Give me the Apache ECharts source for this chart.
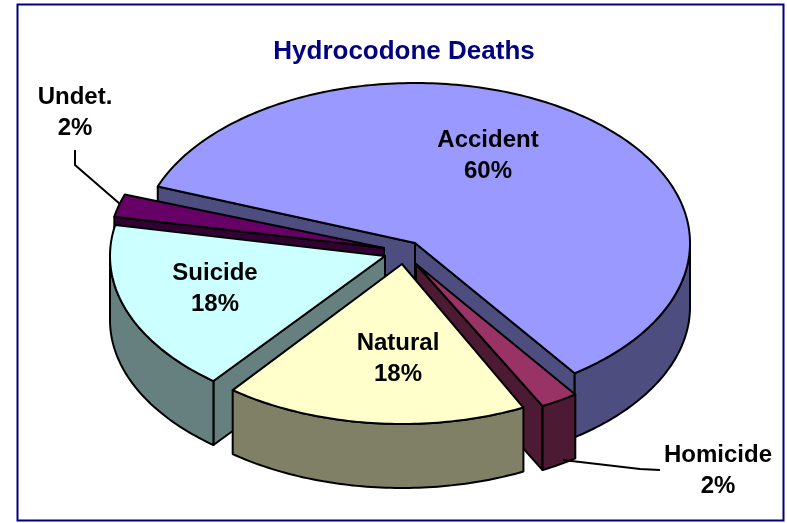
<!DOCTYPE html>
<html><head><meta charset="utf-8">
<style>html,body{margin:0;padding:0;background:#fff}#c{width:787px;height:523px}</style>
<script src="https://cdn.jsdelivr.net/npm/echarts@6/dist/echarts.min.js"></script>
</head><body><div id="c"></div>
<script>
const categories = ["Accident", "Homicide", "Natural", "Suicide", "Undet."];
const shares = [60, 2, 18, 18, 2];
const titleText = "Hydrocodone Deaths";

// styling and layout, not data
const topColors = ["#9999FF", "#993366", "#FFFFCC", "#CCFFFF", "#660066"];
const wallColors = ["#4D4D80", "#4D1A33", "#808066", "#668080", "#330033"];
const centre = [415, 243], rx = 275, ry = 160, depth = 64, startAngle = 289.5;
const explode = [[0, 0], [1, 21], [-13, 21], [-30, 13], [-31, 5]];
// small perspective correction of each slice's rim angles, in degrees
const perspective = [[1.2, -1], [-0.9, -0.1], [1.1, 0.5], [1.1, -1.1], [-1, 0]];
const labelPos = [[488, 156], [718, 471], [398, 359], [215, 289], [75, 113]];
const paintOrder = [0, 4, 3, 1, 2];
const leaders = [
  [[75, 150], [75, 165], [120, 204]],
  [[660, 470], [640, 469], [563, 460]]
];

const total = shares.reduce((a, b) => a + b, 0);
const starts = [];
shares.reduce((acc, v, i) => { starts[i] = acc; return acc + v / total * 360; }, startAngle);

function pt(i, deg, dy) {
  const t = deg * Math.PI / 180;
  return [centre[0] + explode[i][0] + rx * Math.sin(t),
          centre[1] + explode[i][1] - ry * Math.cos(t) + (dy || 0)];
}
function arc(i, a, b, dy) {
  const out = [], n = Math.max(2, Math.ceil(Math.abs(b - a)));
  for (let k = 0; k <= n; k++) out.push(pt(i, a + (b - a) * k / n, dy));
  return out;
}
function poly(points, fill) {
  return { type: "polygon", shape: { points },
    style: { fill, stroke: "#000", lineWidth: 2, lineJoin: "round" } };
}
function renderItem(params, api) {
  const v = api.value(0), i = api.value(1);
  const a = starts[i] + perspective[i][0], b = starts[i] + v / total * 360 + perspective[i][1];
  const apex = [centre[0] + explode[i][0], centre[1] + explode[i][1]];
  const apexLow = [apex[0], apex[1] + depth];
  const kids = [];
  // radial walls facing the viewer
  [[a, a - 90], [b, b + 90]].forEach(([edge, normal]) => {
    if (Math.cos(normal * Math.PI / 180) < 0) {
      kids.push(poly([apex, pt(i, edge), pt(i, edge, depth), apexLow], wallColors[i]));
    }
  });
  // outer wall, front half only
  [0, 360].forEach(k => {
    const lo = Math.max(a, 90 + k), hi = Math.min(b, 270 + k);
    if (hi > lo) kids.push(poly(arc(i, lo, hi).concat(arc(i, hi, lo, depth)), wallColors[i]));
  });
  // top face
  kids.push(poly([apex].concat(arc(i, a, b)), topColors[i]));
  return { type: "group", children: kids };
}
function renderLabels(params, api) {
  const v = api.value(0), i = api.value(1);
  return { type: "text", z2: 100, style: {
    x: labelPos[i][0], y: labelPos[i][1],
    text: categories[i] + "\n" + v + "%",
    align: "center", verticalAlign: "middle", lineHeight: 31,
    fontFamily: "Liberation Sans", fontWeight: "bold", fontSize: 24, fill: "#000" } };
}
const seriesData = paintOrder.map(i => [shares[i], i]);

const chart = echarts.init(document.getElementById("c"), null, { renderer: "canvas" });
chart.setOption({
  animation: false,
  backgroundColor: "#fff",
  title: { text: titleText, left: 399, top: 34, textAlign: "center",
    textStyle: { fontFamily: "Liberation Sans", fontWeight: "bold", fontSize: 26, color: "#000080" } },
  graphic: [
    { type: "rect", z: -1, shape: { x: 17.5, y: 4.5, width: 766, height: 516 },
      style: { fill: "#fff", stroke: "#000080", lineWidth: 2 } }
  ].concat(leaders.map(points => ({ type: "polyline", z: 5, shape: { points },
      style: { fill: null, stroke: "#000", lineWidth: 2 } }))),
  series: [
    { type: "custom", coordinateSystem: "none", renderItem, data: seriesData, silent: true, z: 2 },
    { type: "custom", coordinateSystem: "none", renderItem: renderLabels, data: seriesData, silent: true, z: 10 }
  ]
});
</script></body></html>
